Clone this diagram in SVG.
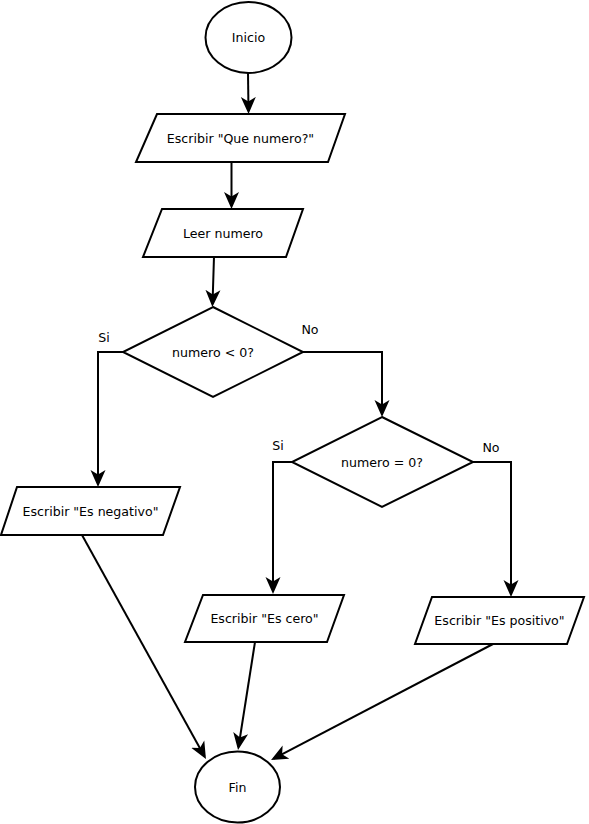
<svg xmlns="http://www.w3.org/2000/svg" width="589" height="824" viewBox="0 0 589 824">
<style>
.shape{fill:#fff;stroke:#000;stroke-width:2}
.conn{fill:none;stroke:#000;stroke-width:2}
text{font-family:"DejaVu Sans","Liberation Sans",sans-serif;font-size:12.6px;fill:#000}
.c{text-anchor:middle;dominant-baseline:central}
</style>
<defs>
<marker id="arr" markerUnits="userSpaceOnUse" markerWidth="18" markerHeight="16" viewBox="0 0 18 16" refX="14" refY="8" orient="auto">
<path d="M17,8 L0,0.5 L4.5,8 L0,15.5 Z" fill="#000"/>
</marker>
</defs>
<g id="connectors">
<path class="conn" d="M248,73 L248.5,111" marker-end="url(#arr)"/>
<path class="conn" d="M231.5,162 L231.5,206" marker-end="url(#arr)"/>
<path class="conn" d="M214,257 L212.5,304" marker-end="url(#arr)"/>
<path class="conn" d="M123,352 L98,352 L98,484" marker-end="url(#arr)"/>
<path class="conn" d="M303,352 L382,352 L382,414" marker-end="url(#arr)"/>
<path class="conn" d="M292,462 L273,462 L273,591" marker-end="url(#arr)"/>
<path class="conn" d="M473,462 L511,462 L511,594" marker-end="url(#arr)"/>
<path class="conn" d="M82,535 L204.5,756.4" marker-end="url(#arr)"/>
<path class="conn" d="M255,642 L238.5,747" marker-end="url(#arr)"/>
<path class="conn" d="M493,644 L273.7,758.6" marker-end="url(#arr)"/>
<text x="104" y="337" class="c">Si</text>
<text x="310" y="329" class="c">No</text>
<text x="278" y="445" class="c">Si</text>
<text x="491" y="447" class="c">No</text>
</g>
<g id="inicio">
<ellipse class="shape" cx="248.5" cy="37.5" rx="43" ry="35.5"/>
<text x="248.5" y="37.5" class="c">Inicio</text>
</g>
<g id="escribir-pregunta">
<polygon class="shape" points="157,114 345,114 328,162 136,162"/>
<text x="240.5" y="138" class="c">Escribir "Que numero?"</text>
</g>
<g id="leer-numero">
<polygon class="shape" points="162,209 303,209 286,257 143,257"/>
<text x="223" y="233" class="c">Leer numero</text>
</g>
<g id="decision-negativo">
<polygon class="shape" points="213,307 303,352 213,397 123,352"/>
<text x="213" y="352" class="c">numero &lt; 0?</text>
</g>
<g id="decision-cero">
<polygon class="shape" points="382,417 473,462 382,507 292,462"/>
<text x="382" y="462" class="c">numero = 0?</text>
</g>
<g id="es-negativo">
<polygon class="shape" points="17,487 180,487 163,535 1,535"/>
<text x="90.5" y="511.5" class="c">Escribir "Es negativo"</text>
</g>
<g id="es-cero">
<polygon class="shape" points="203,595 344,595 327,642 185,642"/>
<text x="264.5" y="618.5" class="c">Escribir "Es cero"</text>
</g>
<g id="es-positivo">
<polygon class="shape" points="432,597 584,597 567,644 415,644"/>
<text x="499.5" y="620.5" class="c">Escribir "Es positivo"</text>
</g>
<g id="fin">
<ellipse class="shape" cx="237.5" cy="787" rx="42.5" ry="35.5"/>
<text x="237.5" y="787" class="c">Fin</text>
</g>
</svg>
